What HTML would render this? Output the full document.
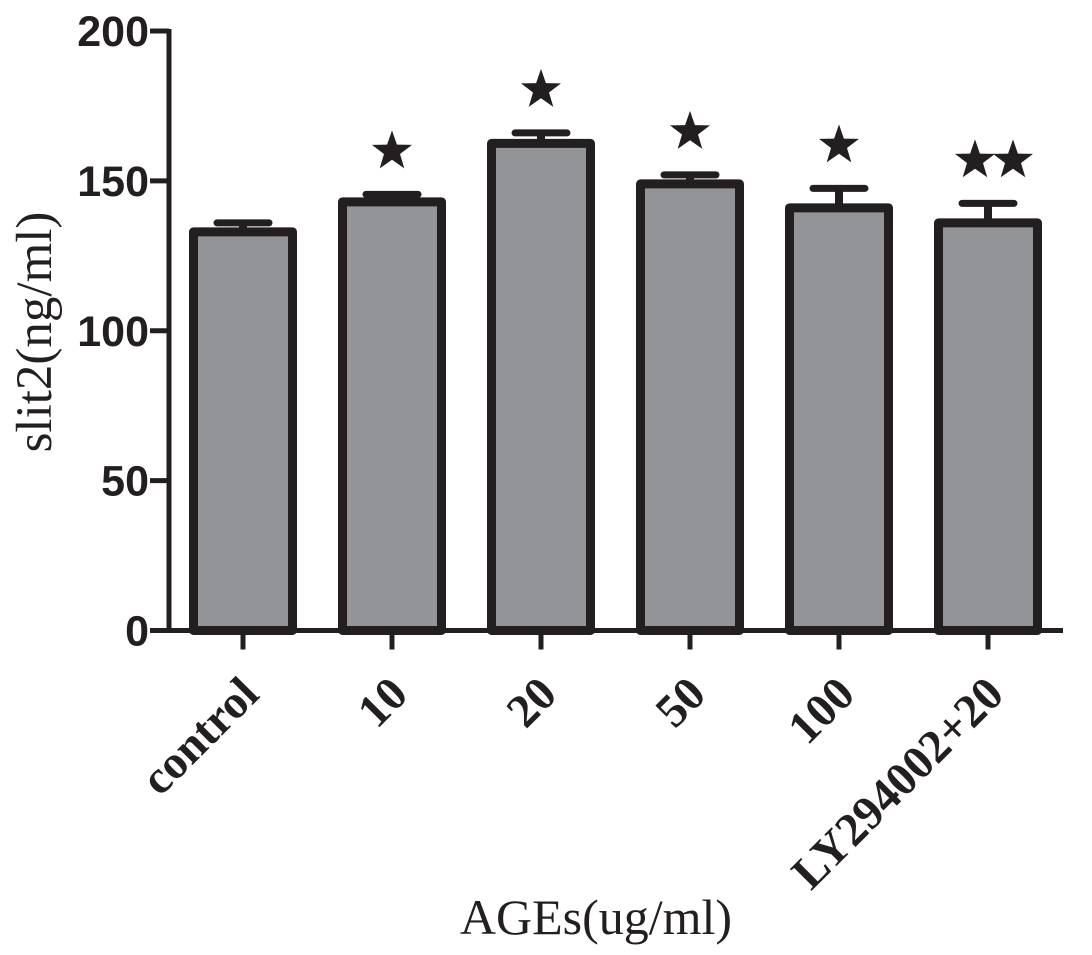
<!DOCTYPE html>
<html><head><meta charset="utf-8"><style>
html,body{margin:0;padding:0;background:#fff;}
svg{display:block;}
</style></head><body>
<svg id="chart" width="1092" height="955" viewBox="0 0 1092 955" xmlns="http://www.w3.org/2000/svg">
<g id="axes"></g>
<g id="bars"></g>
<text transform="translate(51,332) rotate(-90)" text-anchor="middle" font-family="Liberation Serif, serif" font-size="51" fill="#231f20">slit2(ng/ml)</text>
<text x="596" y="934" text-anchor="middle" font-family="Liberation Serif, serif" font-size="50" fill="#231f20">AGEs(ug/ml)</text>
</svg>
<script>
const categories = ["control","10","20","50","100","LY294002+20"];
const means = [133, 143, 162.5, 149, 141, 136];
const errors = [3, 2.5, 3.5, 3, 6.5, 6.5];
const stars = [0, 1, 1, 1, 1, 2];
const yTicks = [0, 50, 100, 150, 200];

const NS = "http://www.w3.org/2000/svg";
const y0 = 630.5, pxPerUnit = 2.9975;
const yScale = v => y0 - v * pxPerUnit;
const xStart = 243, step = 149;
const xScale = i => xStart + i * step;
const ink = "#231f20";
function mk(tag, attrs, parent){
  const el = document.createElementNS(NS, tag);
  for (const k in attrs) el.setAttribute(k, attrs[k]);
  parent.appendChild(el);
  return el;
}
const axes = document.getElementById('axes');
const bars = document.getElementById('bars');

const yAxis = mk('line', {x1:169, y1:yScale(200)-2, x2:169, y2:y0+2.5, stroke:ink, 'stroke-width':5}, axes);


const xAxis = mk('line', {x1:166.5, y1:y0, x2:1063, y2:y0, stroke:ink, 'stroke-width':5}, axes);



yTicks.forEach(t => {
  const y = yScale(t);
  const tk = mk('line', {x1:150, y1:y, x2:169, y2:y, stroke:ink, 'stroke-width':5}, axes);
  
  
  const lb = mk('text', {x:149, y:y+15, 'text-anchor':'end', 'font-family':'Liberation Sans, sans-serif', 'font-weight':'bold', 'font-size':43, fill:ink}, axes);
  lb.textContent = t;
  
  
});

function starPoints(cx, cy, R){
  const r = R * 0.4;
  const pts = [];
  for (let k = 0; k < 10; k++){
    const a = -Math.PI/2 + k*Math.PI/5;
    const rad = k % 2 ? r : R;
    pts.push((cx + rad*Math.cos(a)).toFixed(1) + ',' + (cy + rad*Math.sin(a)).toFixed(1));
  }
  return pts.join(' ');
}

const bw = 99;
categories.forEach((c, i) => {
  const cx = xScale(i);
  const top = yScale(means[i]);
  const errTop = yScale(means[i] + errors[i]);
  const eb = mk('line', {x1:cx, y1:errTop, x2:cx, y2:top, stroke:ink, 'stroke-width':8}, bars);
  
  
  const cap = mk('line', {x1:cx-26, y1:errTop, x2:cx+26, y2:errTop, stroke:ink, 'stroke-width':7, 'stroke-linecap':'round'}, bars);
  
  
  const r = mk('rect', {x:cx-bw/2, y:top, width:bw, height:y0-top, fill:'#939498', stroke:ink, 'stroke-width':9, 'stroke-linejoin':'round'}, bars);
  
  
  const tk = mk('line', {x1:cx, y1:y0, x2:cx, y2:y0+19, stroke:ink, 'stroke-width':5}, axes);
  
  
  const lb = mk('text', {transform:'translate(' + (cx+18) + ',' + (y0+66) + ') rotate(-45)', 'text-anchor':'end', 'font-family':'Liberation Serif, serif', 'font-weight':'bold', 'font-size':47, fill:ink}, axes);
  lb.textContent = c;
  
  
  const n = stars[i];
  for (let s = 0; s < n; s++){
    const sx = n === 1 ? cx : cx - 13 + s*38;
    const st = mk('polygon', {points: starPoints(sx, errTop - 43, 21), fill:ink}, bars);
    
    
  }
});
</script>
</body></html>
